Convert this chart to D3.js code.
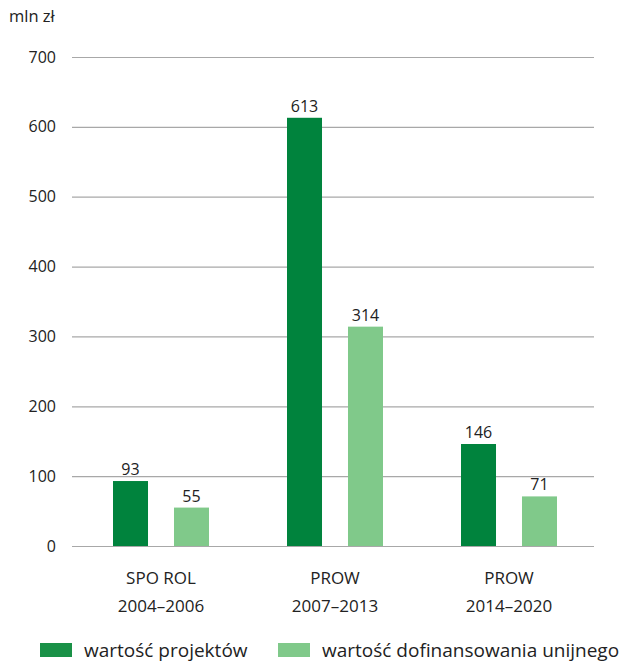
<!DOCTYPE html>
<html><head><meta charset="utf-8">
<script src="https://cdn.jsdelivr.net/npm/d3@7"></script>
<style>
body{margin:0;background:#fff;}
text{font-family:"Open Sans","Noto Sans",sans-serif;fill:#222;}
</style></head>
<body><svg id="c" width="625" height="664"></svg>
<script>
const categories = [["SPO ROL","2004–2006"],["PROW","2007–2013"],["PROW","2014–2020"]];
const seriesNames = ["wartość projektów","wartość dofinansowania unijnego"];
const projekty = [93, 613, 146];
const dofinansowanie = [55, 314, 71];
const yTicks = [0,100,200,300,400,500,600,700];
const unit = "mln zł";

const colors = ["#00833d","#80c98a"];
const legendColors = ["#1a9147","#80c98a"];
const svg = d3.select("#c");
const x0 = d3.scaleBand().domain(d3.range(categories.length)).range([72,594]);
const x1 = d3.scaleBand().domain([0,1]).range([41,137]).paddingInner(0.426).paddingOuter(0);
const y = d3.scaleLinear().domain([0,700]).range([546,57]);

const yAxis = svg.append("g").attr("transform","translate(72,0)")
  .call(d3.axisLeft(y).tickValues(yTicks).tickSize(-522).tickPadding(16));
yAxis.select(".domain").remove();
yAxis.selectAll(".tick line").attr("stroke","#a8a8a8").attr("stroke-width",1.2);
yAxis.selectAll(".tick text").style("font-size","16px").attr("fill","#222");

svg.append("text").attr("x",9).attr("y",22).style("font-size","16.5px").text(unit);

const series = [projekty, dofinansowanie];
series.forEach((vals,s)=>{
  svg.append("g").selectAll("rect").data(vals).join("rect")
    .attr("x",(d,i)=>x0(i)+x1(s)).attr("width",x1.bandwidth())
    .attr("y",d=>y(d)).attr("height",d=>y(0)-y(d)).attr("fill",colors[s]);
  svg.append("g").selectAll("text").data(vals).join("text")
    .attr("x",(d,i)=>x0(i)+x1(s)+x1.bandwidth()/2).attr("y",d=>y(d)-6)
    .attr("text-anchor","middle").style("font-size","16px").text(d=>d);
});

const cat = svg.append("g").selectAll("text").data(categories).join("text")
  .attr("text-anchor","middle").style("font-size","17px");
cat.append("tspan").attr("y",584).attr("x",(d,i)=>x0(i)+x0.bandwidth()/2+2).text(d=>d[0]);
cat.append("tspan").attr("y",612).attr("x",(d,i)=>x0(i)+x0.bandwidth()/2+2).text(d=>d[1]);

const legX = [40,278];
seriesNames.forEach((n,i)=>{
  svg.append("rect").attr("x",legX[i]).attr("y",643).attr("width",32).attr("height",14).attr("fill",legendColors[i]);
  svg.append("text").attr("x",legX[i]+44).attr("y",657).style("font-size","19px").text(n);
});
</script></body></html>
